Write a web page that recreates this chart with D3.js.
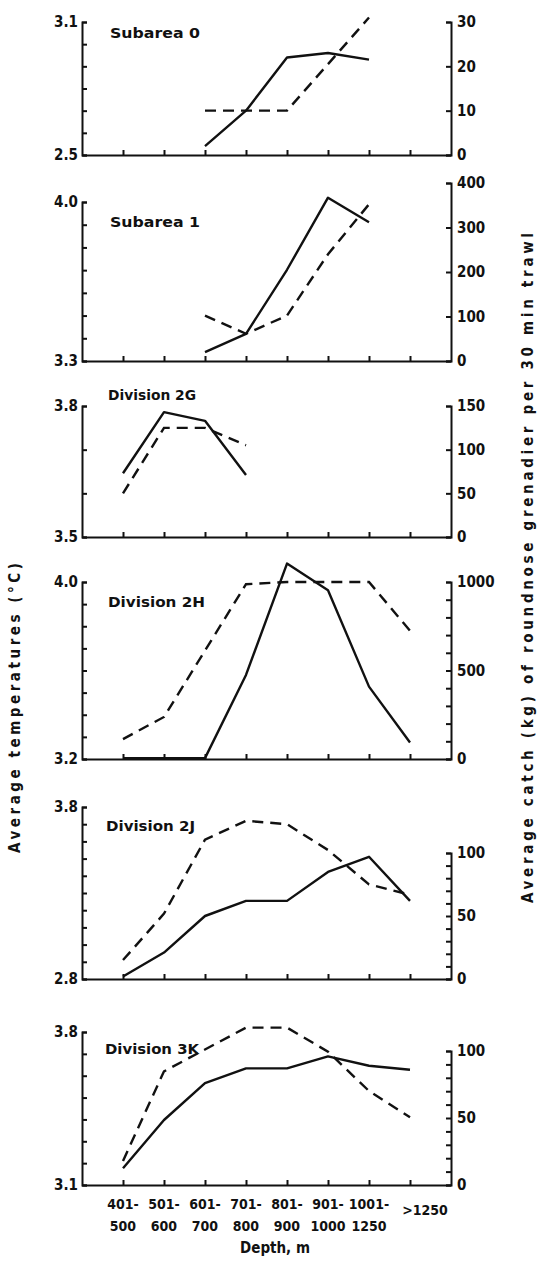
<!DOCTYPE html>
<html>
<head>
<meta charset="utf-8">
<script src="https://cdn.jsdelivr.net/npm/d3@7"></script>
<style>
  body { margin: 0; background: #fff; }
  svg text { font-family: "DejaVu Sans Condensed", "DejaVu Sans", sans-serif; font-weight: bold; fill: #111; }
  .axis path, .axis line { stroke: #111; stroke-width: 2; }
</style>
</head>
<body>
<svg id="chart" width="543" height="1261"></svg>
<script>
// depth classes (x axis)
const depths = ["401-500", "501-600", "601-700", "701-800", "801-900", "901-1000", "1001-1250", ">1250"];
const depthTop = ["401-", "501-", "601-", "701-", "801-", "901-", "1001-", ""];
const depthBottom = ["500", "600", "700", "800", "900", "1000", "1250", ""];

const panelNames = ["Subarea 0", "Subarea 1", "Division 2G", "Division 2H", "Division 2J", "Division 3K"];

// average temperature (°C), dashed line, left axis
const temp0 = [null, null, 2.70, 2.70, 2.70, 2.91, 3.12, null];
const temp1 = [null, null, 3.50, 3.42, 3.50, 3.77, 3.99, null];
const temp2G = [3.60, 3.75, 3.75, 3.71, null, null, null, null];
const temp2H = [3.29, 3.39, 3.69, 3.99, 4.00, 4.00, 4.00, 3.78];
const temp2J = [2.91, 3.18, 3.61, 3.72, 3.70, 3.55, 3.35, 3.29];
const temp3K = [3.21, 3.62, 3.72, 3.82, 3.82, 3.71, 3.53, 3.41];

// average catch (kg per 30 min trawl), solid line, right axis
const catch0 = [null, null, 2, 10, 22, 23, 21.5, null];
const catch1 = [null, null, 20, 61, 205, 367, 312, null];
const catch2G = [73, 143, 133, 71, null, null, null, null];
const catch2H = [5, 5, 5, 475, 1104, 953, 409, 93];
const catch2J = [2, 21, 50, 62, 62, 85, 97, 62];
const catch3K = [12.5, 48.5, 76, 87, 87, 96, 89, 86];

// axis ranges
const tempDomains = [[2.5, 3.1], [3.3, 4.0], [3.5, 3.8], [3.2, 4.0], [2.8, 3.8], [3.1, 3.8]];
const catchMax = [30, 400, 150, 1000, 100, 100];
const catchTickStep = [10, 100, 50, 100, 10, 10];
const catchLabels = [[0, 10, 20, 30], [0, 100, 200, 300, 400], [0, 50, 100, 150], [0, 500, 1000], [0, 50, 100], [0, 50, 100]];

const temps = [temp0, temp1, temp2G, temp2H, temp2J, temp3K];
const catches = [catch0, catch1, catch2G, catch2H, catch2J, catch3K];

// layout (pixels)
const xLeft = 82, xRight = 451;
const base = [155, 361, 537, 759, 979, 1185];
const leftTop = [22, 202, 406, 582, 807, 1032];
const rightTop = [22, 183, 406, 582, 853, 1051];
const titleX = [110, 110, 108, 108, 106, 105];
const titleY = [38, 227, 400, 607, 831, 1054];
const titleLen = [90, 90, 88, 97, 89, 94];

const svg = d3.select("#chart");
const ink = "#111";

const x = d3.scalePoint().domain(depths).range([xLeft, xRight]).padding(1);

function drawPanel(p) {
    const g = svg.append("g");
    const yT = d3.scaleLinear().domain(tempDomains[p]).range([base[p], leftTop[p]]);
    const yC = d3.scaleLinear().domain([0, catchMax[p]]).range([base[p], rightTop[p]]);

    // left (temperature) axis, ticks pointing inward
    const [t0, t1] = tempDomains[p];
    const tTicks = d3.range(Math.round((t1 - t0) / 0.1) + 1).map(i => +(t0 + i * 0.1).toFixed(1));
    g.append("g")
        .attr("class", "axis")
        .attr("transform", `translate(${xLeft},0)`)
        .call(d3.axisLeft(yT)
            .tickValues(tTicks)
            .tickSizeInner(-5)
            .tickSizeOuter(-5)
            .tickPadding(4)
            .tickFormat(d => (d === t0 || d === t1) ? d.toFixed(1) : ""))
        .call(a => a.selectAll("text").style("font-size", "15px").attr("fill", ink));

    // right (catch) axis
    const cTicks = d3.range(0, catchMax[p] + 0.001, catchTickStep[p]);
    g.append("g")
        .attr("class", "axis")
        .attr("transform", `translate(${xRight},0)`)
        .call(d3.axisRight(yC)
            .tickValues(cTicks)
            .tickSizeInner(-5)
            .tickSizeOuter(-5)
            .tickPadding(6)
            .tickFormat(d => catchLabels[p].includes(d) ? d : ""))
        .call(a => a.selectAll("text").style("font-size", "15px").attr("fill", ink));

    // depth axis
    g.append("g")
        .attr("class", "axis")
        .attr("transform", `translate(0,${base[p]})`)
        .call(d3.axisBottom(x).tickSizeInner(-5).tickSizeOuter(0).tickFormat(""));

    // temperature (dashed)
    const lineT = d3.line()
        .defined(d => d != null)
        .x((d, i) => x(depths[i]))
        .y(d => yT(d));
    g.append("path")
        .datum(temps[p])
        .attr("d", lineT)
        .attr("fill", "none")
        .attr("stroke", ink)
        .attr("stroke-width", 2.4)
        .attr("stroke-dasharray", "11,7");

    // catch (solid)
    const lineC = d3.line()
        .defined(d => d != null)
        .x((d, i) => x(depths[i]))
        .y(d => yC(d));
    g.append("path")
        .datum(catches[p])
        .attr("d", lineC)
        .attr("fill", "none")
        .attr("stroke", ink)
        .attr("stroke-width", 2.4)
        .attr("stroke-linejoin", "round");

    g.append("text")
        .attr("x", titleX[p])
        .attr("y", titleY[p])
        .attr("textLength", titleLen[p])
        .attr("lengthAdjust", "spacingAndGlyphs")
        .style("font-size", "14px")
        .text(panelNames[p]);
}

panelNames.forEach((n, p) => drawPanel(p));

// depth labels under the last panel
const lastBase = base[base.length - 1];
const lab = svg.append("g").style("font-size", "14px");
lab.selectAll(".dtop")
    .data(depths)
    .join("text")
    .attr("x", d => x(d))
    .attr("y", lastBase + 24)
    .attr("text-anchor", "middle")
    .text((d, i) => depthTop[i]);
lab.selectAll(".dbot")
    .data(depths)
    .join("text")
    .attr("x", d => x(d))
    .attr("y", lastBase + 46)
    .attr("text-anchor", "middle")
    .text((d, i) => depthBottom[i]);
lab.append("text")
    .attr("x", x(depths[7]) + 15)
    .attr("y", lastBase + 30)
    .attr("text-anchor", "middle")
    .text(depths[7]);

svg.append("text")
    .attr("x", 275)
    .attr("y", lastBase + 68)
    .attr("text-anchor", "middle")
    .style("font-size", "15px")
    .text("Depth, m");

// axis titles
svg.append("text")
    .attr("transform", "translate(20,708) rotate(-90)")
    .attr("text-anchor", "middle")
    .attr("textLength", 290)
    .attr("lengthAdjust", "spacing")
    .style("font-size", "15px")
    .text("Average  temperatures  (°C)");

svg.append("text")
    .attr("transform", "translate(533,568) rotate(-90)")
    .attr("text-anchor", "middle")
    .attr("textLength", 670)
    .attr("lengthAdjust", "spacing")
    .style("font-size", "15px")
    .text("Average catch (kg) of roundnose grenadier per 30 min trawl");
</script>
</body>
</html>
